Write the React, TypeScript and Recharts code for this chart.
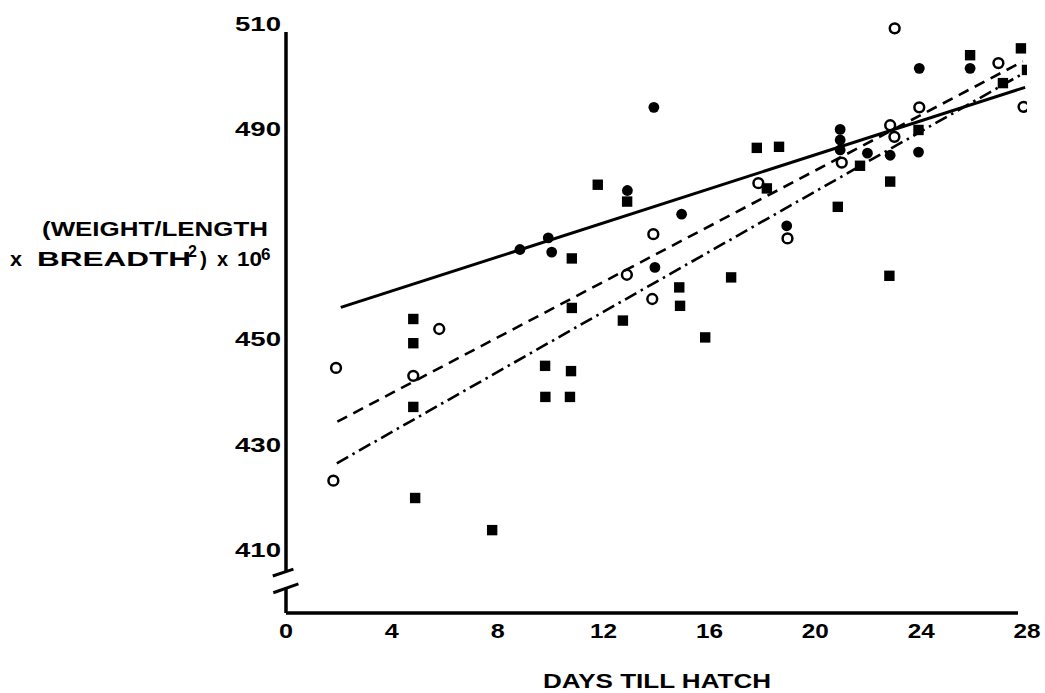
import {
  ComposedChart,
  Scatter,
  Line,
  XAxis,
  YAxis,
  ReferenceLine,
  Customized,
} from "recharts";

// days till hatch vs (weight / length x breadth^2) x 10^6
const filledCircles = [
  { x: 8.84, y: 466.7 },
  { x: 9.91, y: 468.9 },
  { x: 10.04, y: 466.2 },
  { x: 12.9, y: 477.9 },
  { x: 13.9, y: 493.7 },
  { x: 13.94, y: 463.3 },
  { x: 14.95, y: 473.4 },
  { x: 18.92, y: 471.2 },
  { x: 20.94, y: 489.5 },
  { x: 20.94, y: 487.5 },
  { x: 20.94, y: 485.6 },
  { x: 21.97, y: 485.0 },
  { x: 22.83, y: 484.6 },
  { x: 23.9, y: 485.2 },
  { x: 23.93, y: 501.1 },
  { x: 25.85, y: 501.1 },
];

const openCircles = [
  { x: 1.89, y: 444.2 },
  { x: 1.79, y: 422.8 },
  { x: 4.81, y: 442.7 },
  { x: 5.79, y: 451.6 },
  { x: 12.88, y: 461.9 },
  { x: 13.88, y: 469.6 },
  { x: 13.84, y: 457.3 },
  { x: 17.85, y: 479.3 },
  { x: 18.95, y: 468.8 },
  { x: 21.0, y: 483.2 },
  { x: 23.0, y: 508.7 },
  { x: 22.83, y: 490.3 },
  { x: 22.99, y: 488.1 },
  { x: 23.93, y: 493.7 },
  { x: 26.92, y: 502.1 },
  { x: 27.87, y: 493.8 },
];

const squares = [
  { x: 4.81, y: 453.5 },
  { x: 4.81, y: 448.9 },
  { x: 4.81, y: 436.8 },
  { x: 4.88, y: 419.5 },
  { x: 7.79, y: 413.4 },
  { x: 9.79, y: 444.6 },
  { x: 10.77, y: 443.6 },
  { x: 9.8, y: 438.7 },
  { x: 10.73, y: 438.7 },
  { x: 10.8, y: 455.6 },
  { x: 10.8, y: 465.0 },
  { x: 11.78, y: 479.0 },
  { x: 12.73, y: 453.2 },
  { x: 12.89, y: 475.8 },
  { x: 14.86, y: 459.5 },
  { x: 14.89, y: 456.0 },
  { x: 15.84, y: 450.0 },
  { x: 16.82, y: 461.4 },
  { x: 17.79, y: 486.0 },
  { x: 18.63, y: 486.2 },
  { x: 18.17, y: 478.3 },
  { x: 20.85, y: 474.8 },
  { x: 21.69, y: 482.6 },
  { x: 22.83, y: 479.6 },
  { x: 22.8, y: 461.7 },
  { x: 23.9, y: 489.4 },
  { x: 25.85, y: 503.6 },
  { x: 27.77, y: 504.9 },
  { x: 28.0, y: 500.8 },
  { x: 27.09, y: 498.3 },
];

const solidFit = [
  { x: 2.07, y: 455.7 },
  { x: 27.93, y: 497.5 },
];
const dashedFit = [
  { x: 1.94, y: 434.0 },
  { x: 27.84, y: 502.4 },
];
const dashDotFit = [
  { x: 1.92, y: 426.1 },
  { x: 27.98, y: 500.5 },
];

const dayTicks = [0, 4, 8, 12, 16, 20, 24, 28];
const weightTicks = [410, 430, 450, 490, 510];

const FONT = "'Liberation Sans', Arial, sans-serif";
const digitWidth: Record<number, number> = { 1: 14, 2: 27, 3: 46 };

const XTick = (p: any) => {
  const s = String(p.payload.value);
  return (
    <text
      x={p.x}
      y={p.y}
      dy={25}
      textAnchor="middle"
      fontFamily={FONT}
      fontWeight="bold"
      fontSize={20}
      textLength={digitWidth[s.length]}
      lengthAdjust="spacingAndGlyphs"
      fill="#000"
    >
      {s}
    </text>
  );
};

const YTick = (p: any) => {
  const s = String(p.payload.value);
  return (
    <text
      x={p.x}
      y={p.y}
      dy={9}
      textAnchor="end"
      fontFamily={FONT}
      fontWeight="bold"
      fontSize={20}
      textLength={digitWidth[s.length]}
      lengthAdjust="spacingAndGlyphs"
      fill="#000"
    >
      {s}
    </text>
  );
};

const Square = (p: any) => (
  <rect x={p.cx - 5.2} y={p.cy - 5.2} width={10.4} height={10.4} fill="#000" />
);
const Dot = (p: any) => <circle cx={p.cx} cy={p.cy} r={5.4} fill="#000" />;
const Ring = (p: any) => (
  <circle cx={p.cx} cy={p.cy} r={4.9} fill="none" stroke="#000" strokeWidth={2.5} />
);

const Titles = () => {
  const t = { fontFamily: FONT, fontWeight: "bold" as const, fill: "#000" };
  return (
    <g>
      <text {...t} x={42} y={236} fontSize={20} textLength={226} lengthAdjust="spacingAndGlyphs">
        (WEIGHT/LENGTH
      </text>
      <text {...t} x={10} y={266} fontSize={20} textLength={12} lengthAdjust="spacingAndGlyphs">
        x
      </text>
      <text {...t} x={37} y={266} fontSize={21} textLength={154} lengthAdjust="spacingAndGlyphs">
        BREADTH
      </text>
      <text {...t} x={188} y={257} fontSize={16}>
        2
      </text>
      <text {...t} x={200} y={266} fontSize={21}>
        )
      </text>
      <text {...t} x={217} y={266} fontSize={20}>
        x
      </text>
      <text {...t} x={237} y={266} fontSize={21} textLength={25} lengthAdjust="spacingAndGlyphs">
        10
      </text>
      <text {...t} x={261} y={260} fontSize={17}>
        6
      </text>
      <text
        {...t}
        x={543}
        y={688}
        fontSize={20}
        textLength={228}
        lengthAdjust="spacingAndGlyphs"
      >
        DAYS TILL HATCH
      </text>
    </g>
  );
};

export default function App() {
  return (
    <div style={{ position: "absolute", left: 0, top: 0, background: "#fff" }}>
      <ComposedChart
        width={1045}
        height={693}
        margin={{ top: 21.5, right: 18, bottom: 50, left: 226 }}
      >
        <XAxis
          type="number"
          dataKey="x"
          domain={[0, 28]}
          ticks={dayTicks}
          allowDataOverflow
          axisLine={false}
          tickLine={false}
          tickSize={0}
          tickMargin={0}
          height={30}
          tick={<XTick />}
        />
        <YAxis
          type="number"
          dataKey="y"
          domain={[397.66, 510]}
          ticks={weightTicks}
          allowDataOverflow
          axisLine={false}
          tickLine={false}
          tickSize={0}
          tickMargin={5}
          width={60}
          tick={<YTick />}
        />
        {/* axes with the break on the y axis */}
        <ReferenceLine
          segment={[{ x: 0, y: 397.66 }, { x: 27.66, y: 397.66 }]}
          stroke="#000"
          strokeWidth={3.5}
          ifOverflow="visible"
        />
        <ReferenceLine
          segment={[{ x: 0, y: 405.45 }, { x: 0, y: 508 }]}
          stroke="#000"
          strokeWidth={3.5}
          ifOverflow="visible"
        />
        <ReferenceLine
          segment={[{ x: 0, y: 397.66 }, { x: 0, y: 402.2 }]}
          stroke="#000"
          strokeWidth={3.5}
          ifOverflow="visible"
        />
        <ReferenceLine
          segment={[{ x: -0.5, y: 404.68 }, { x: 0.28, y: 406.0 }]}
          stroke="#000"
          strokeWidth={3}
          ifOverflow="visible"
        />
        <ReferenceLine
          segment={[{ x: -0.48, y: 401.5 }, { x: 0.47, y: 403.2 }]}
          stroke="#000"
          strokeWidth={3}
          ifOverflow="visible"
        />
        <Line
          data={solidFit}
          dataKey="y"
          stroke="#000"
          strokeWidth={3}
          dot={false}
          isAnimationActive={false}
        />
        <Line
          data={dashedFit}
          dataKey="y"
          stroke="#000"
          strokeWidth={2.6}
          strokeDasharray="11 7"
          dot={false}
          isAnimationActive={false}
        />
        <Line
          data={dashDotFit}
          dataKey="y"
          stroke="#000"
          strokeWidth={2.6}
          strokeDasharray="13 5 2.5 5"
          dot={false}
          isAnimationActive={false}
        />
        <Scatter data={squares} shape={<Square />} isAnimationActive={false} />
        <Scatter data={filledCircles} shape={<Dot />} isAnimationActive={false} />
        <Scatter data={openCircles} shape={<Ring />} isAnimationActive={false} />
        <Customized component={Titles} />
      </ComposedChart>
    </div>
  );
}
